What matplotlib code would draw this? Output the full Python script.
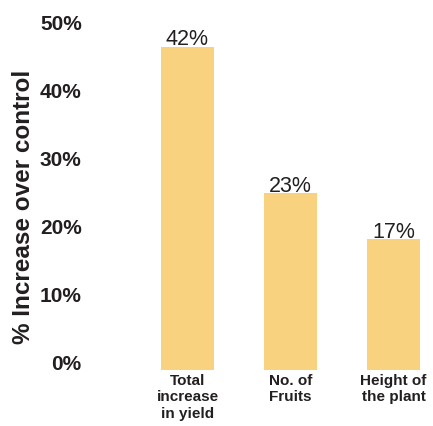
import matplotlib
matplotlib.use("Agg")
import matplotlib.pyplot as plt

categories = ["Total\nincrease\nin yield", "No. of\nFruits", "Height of\nthe plant"]
values = [42, 23, 17]
value_labels = ["42%", "23%", "17%"]
tick_values = [0, 10, 20, 30, 40, 50]
tick_labels = ["0%", "10%", "20%", "30%", "40%", "50%"]

BAR = "#F8D27F"
TXT = "#231F20"
W, H = 433, 426
plt.rcParams["font.family"] = ["Liberation Sans", "DejaVu Sans"]

fig = plt.figure(figsize=(W / 100, H / 100), dpi=100)

# axes box in pixels (from top): y 20..370, x 140..430
left, right, top, bottom = 140, 430, 20, 370
pos = [left / W, (H - bottom) / H, (right - left) / W, (bottom - top) / H]

ax = fig.add_axes(pos)
x = list(range(len(values)))
ax.bar(x, values, width=0.51, color=BAR)
ax.set_xlim(-0.461, 2.354)
ax.set_ylim(0, (bottom - top) / 7.7)
for xi, v, lab in zip(x, values, value_labels):
    ax.annotate(lab, (xi, v), xytext=(0, 0.8), textcoords="offset points",
                ha="center", va="baseline", fontsize=15.5, color=TXT)
ax.set_xticks(x)
ax.set_xticklabels(categories, fontsize=11, fontweight="bold", color=TXT,
                   linespacing=1.2, va="top")
ax.tick_params(axis="x", length=0, pad=3)
ax.set_yticks([])
for s in ax.spines.values():
    s.set_visible(False)

# value axis labels
ax2 = fig.add_axes(pos, sharex=ax)
ax2.patch.set_visible(False)
ax2.set_ylim(-7 / 6.82, 50 + 2 / 6.82)
ax2.set_yticks(tick_values)
ax2.set_yticklabels(tick_labels, fontsize=15, fontweight="bold", color=TXT)
ax2.tick_params(axis="y", length=0, pad=42)
ax2.tick_params(axis="x", bottom=False, labelbottom=False)
for s in ax2.spines.values():
    s.set_visible(False)

fig.text(24 / W, 1 - 207 / H, "% Increase over control", rotation=90,
         ha="center", va="center", fontsize=17.5, fontweight="bold", color=TXT)

fig.savefig("out.png", dpi=100)
